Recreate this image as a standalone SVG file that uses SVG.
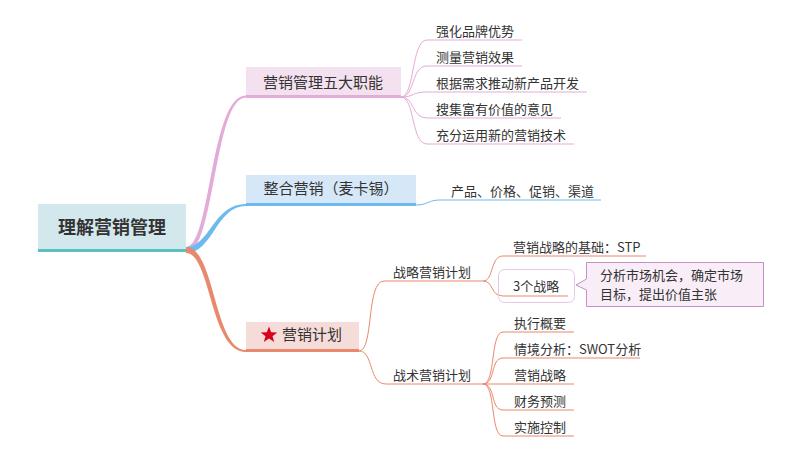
<svg xmlns="http://www.w3.org/2000/svg" width="800" height="457" viewBox="0 0 800 457">
<style>
text{font-family:"Noto Sans CJK SC","Noto Sans",sans-serif;fill:#333}
.t13{font-size:13px}
.t15{font-size:15px}
.pk{fill:none;stroke:#e3abd8;stroke-width:1}
.bl{fill:none;stroke:#6cbaf0;stroke-width:1}
.sa{fill:none;stroke:#e8896d;stroke-width:1}
</style>
<rect width="800" height="457" fill="#fff"/>
<g id="connectors">
<path d="M186,247 C211,247 210,95.5 246,95.5 L246,97.5 C214,97.5 215,253 186,253 Z" fill="#e3abd8"/>
<path d="M186,247 C210,247 213,204 246,204 L246,206 C216,206 213,253 186,253 Z" fill="#6cbaf0"/>
<path d="M186,247 C215,247 214,350 246,350 L246,352 C210,352 211,253 186,253 Z" fill="#e8896d"/>
<path class="pk" d="M401,97 C415,97 411,40 427,40 H522"/>
<path class="pk" d="M401,97 C415,97 411,66 427,66 H522"/>
<path class="pk" d="M401,97 C415,97 411,92 427,92 H587"/>
<path class="pk" d="M401,97 C415,97 411,118 427,118 H561"/>
<path class="pk" d="M401,97 C415,97 411,144 427,144 H574"/>
<path class="bl" d="M416,205 C428,205 428,200 440,200 H601"/>
<path class="sa" d="M359,351 C374,351 366,281 384,281 H483"/>
<path class="sa" d="M359,351 C374,351 368,384 386,384 H483"/>
<path class="sa" d="M483,281 C494,281 490,256 503,256 H646"/>
<path class="sa" d="M483,281 C494,281 490,296 503,296 H568"/>
<path class="sa" d="M483,384 C496,384 490,332 503,332 H574"/>
<path class="sa" d="M483,384 C496,384 490,358 503,358 H640"/>
<path class="sa" d="M483,384 H574"/>
<path class="sa" d="M483,384 C496,384 490,410 503,410 H574"/>
<path class="sa" d="M483,384 C496,384 490,436 503,436 H574"/>
</g>
<g id="root">
<rect x="38" y="204" width="148" height="46" fill="#d2e8ec"/>
<rect x="38" y="249" width="148" height="3" fill="#5bbfc0"/>
<text x="112" y="234" text-anchor="middle" font-size="18" font-weight="bold">理解营销管理</text>
</g>
<g id="n1">
<rect x="246" y="67" width="155" height="29" fill="#f4e1ef"/>
<rect x="246" y="95" width="155" height="3" fill="#e3abd8"/>
<text class="t15" x="323" y="88" text-anchor="middle">营销管理五大职能</text>
</g>
<g id="n1c">
<text class="t13" x="436" y="36">强化品牌优势</text>
<text class="t13" x="436" y="62">测量营销效果</text>
<text class="t13" x="436" y="88">根据需求推动新产品开发</text>
<text class="t13" x="436" y="114">搜集富有价值的意见</text>
<text class="t13" x="436" y="140">充分运用新的营销技术</text>
</g>
<g id="n2">
<rect x="246" y="175" width="170" height="29" fill="#d6e8f8"/>
<rect x="246" y="203" width="170" height="3" fill="#6cbaf0"/>
<text class="t15" x="331" y="194" text-anchor="middle">整合营销（麦卡锡）</text>
<text class="t13" x="451" y="196">产品、价格、促销、渠道</text>
</g>
<g id="n3">
<rect x="246" y="322" width="113" height="28" fill="#f6dcd8"/>
<rect x="246" y="349" width="113" height="3" fill="#e8896d"/>
<polygon points="269,326.5 271.2,332.2 277.3,332.4 272.5,336.2 274.2,342 269,338.6 263.8,342 265.5,336.2 260.7,332.4 266.8,332.2" fill="#d9001b"/>
<text class="t15" x="282" y="340">营销计划</text>
</g>
<g id="n3a">
<text class="t13" x="393" y="277">战略营销计划</text>
<text class="t13" x="513" y="252">营销战略的基础：STP</text>
<rect x="498.5" y="269.5" width="76" height="33" rx="6" fill="none" stroke="#ebc4ea" stroke-width="1"/>
<text class="t13" x="513" y="291">3个战略</text>
<path d="M586.5,262.5 H763.5 V306.5 H586.5 V290 L576,285 L586.5,279 Z" fill="#f9eef8" stroke="#c690c4" stroke-width="1"/>
<text class="t13" x="600" y="280">分析市场机会，确定市场</text>
<text class="t13" x="600" y="299">目标，提出价值主张</text>
</g>
<g id="n3b">
<text class="t13" x="393" y="380">战术营销计划</text>
<text class="t13" x="514" y="328">执行概要</text>
<text class="t13" x="514" y="354">情境分析：SWOT分析</text>
<text class="t13" x="514" y="380">营销战略</text>
<text class="t13" x="514" y="406">财务预测</text>
<text class="t13" x="514" y="432">实施控制</text>
</g>
</svg>
